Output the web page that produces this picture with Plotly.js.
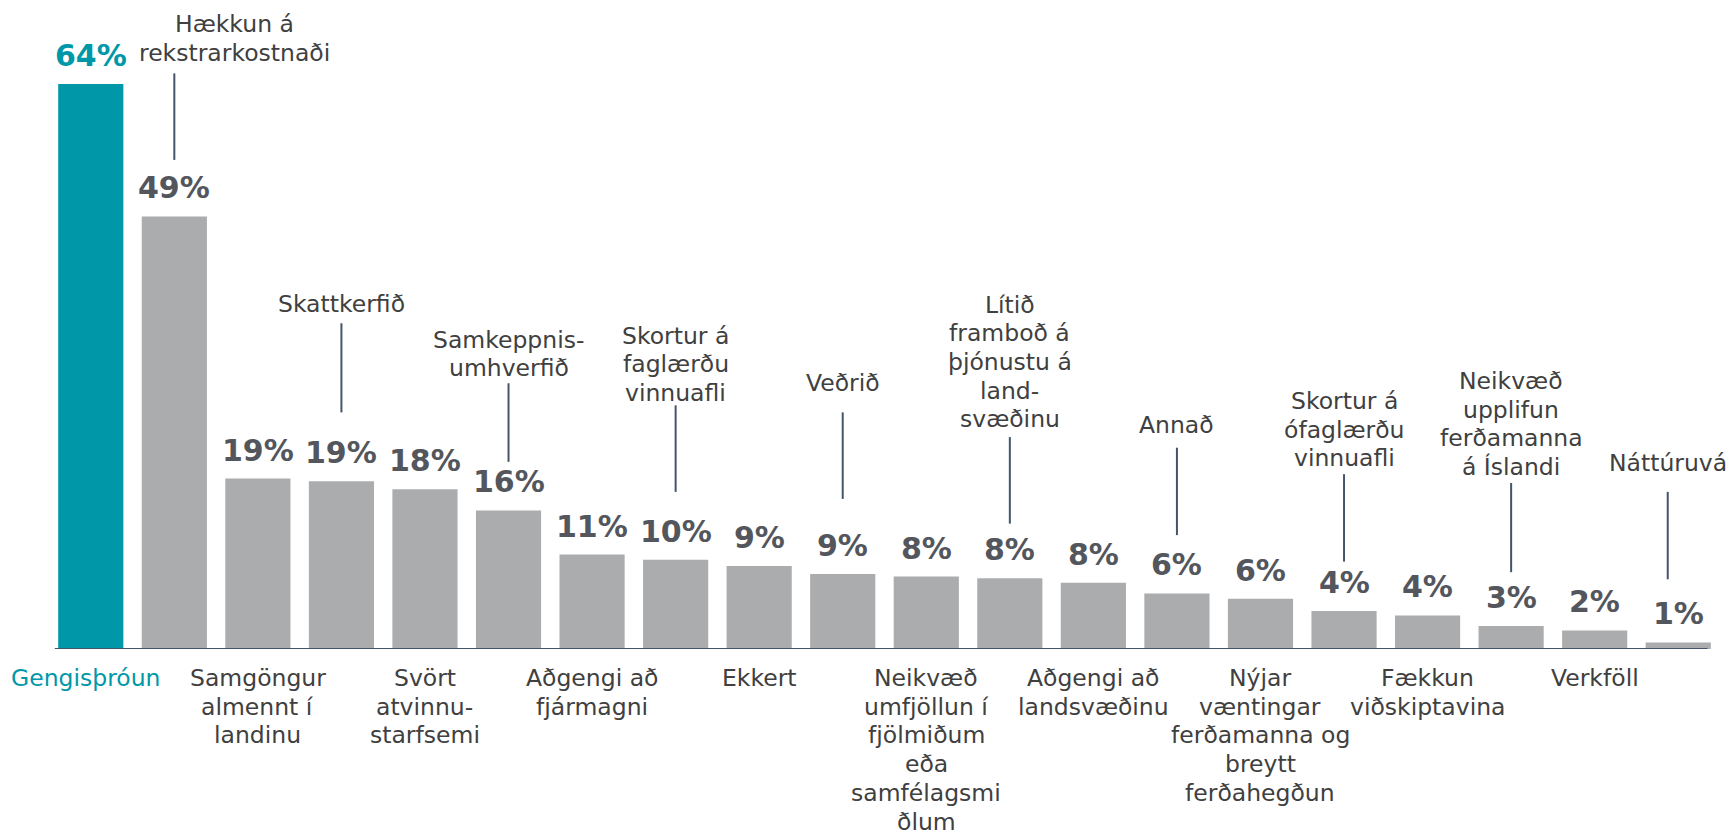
<!DOCTYPE html>
<html>
<head>
<meta charset="utf-8">
<script src="https://cdn.plot.ly/plotly-3.0.1.min.js"></script>
<style>html,body{margin:0;padding:0;background:#fff;}#chart{width:1733px;height:830px;}</style>
</head>
<body>
<div id="chart"></div>
<script>
// ---- data ----
const categories = [
  "Gengisþróun",
  "Hækkun á\nrekstrarkostnaði",
  "Samgöngur\nalmennt í\nlandinu",
  "Skattkerfið",
  "Svört\natvinnu-\nstarfsemi",
  "Samkeppnis-\numhverfið",
  "Aðgengi að\nfjármagni",
  "Skortur á\nfaglærðu\nvinnuafli",
  "Ekkert",
  "Veðrið",
  "Neikvæð\numfjöllun í\nfjölmiðum\neða\nsamfélagsmi\nðlum",
  "Lítið\nframboð á\nþjónustu á\nland-\nsvæðinu",
  "Aðgengi að\nlandsvæðinu",
  "Annað",
  "Nýjar\nvæntingar\nferðamanna og\nbreytt\nferðahegðun",
  "Skortur á\nófaglærðu\nvinnuafli",
  "Fækkun\nviðskiptavina",
  "Neikvæð\nupplifun\nferðamanna\ná Íslandi",
  "Verkföll",
  "Náttúruvá"
];
const values = [64.0, 49.0, 19.3, 19.0, 18.1, 15.7, 10.7, 10.1, 9.4, 8.5, 8.2, 8.0, 7.5, 6.3, 5.7, 4.3, 3.8, 2.6, 2.1, 0.75];

// ---- layout helpers (positions of the callout labels above the bars, axis units) ----
const calloutTextY     = [67.5, 39.1, 31.8, 29.0, 30.1, 26.0, 25.4, 21.6, 20.6, 21.1];
const calloutLineTop   = [65.2, 36.9, 30.1, 27.6, 26.8, 24.0, 22.8, 19.8, 18.8, 17.8];
const calloutLineBottom= [55.4, 26.8, 21.2, 17.8, 17.0, 14.2, 12.9, 9.9, 8.7, 7.9];
const labelShiftPx  = [-5, 60, 0,0,0,0,0,0,0,0,0,0,0,0,0,0,0,0,0,-10.5];
const leaderShiftPx = [0, 0, 0,0,0,0,0,0,0,0,0,0,0,0,0,0,0,0,0,-10.5];

const TEAL = '#0098A8';
const GRAY = '#ABACAE';
const PCT = '#53565C';
const TXT = '#404040';
const LINE = '#44546A';
const FONT = 'DejaVu Sans, Verdana, sans-serif';
const LH = 28.7;
const PITCH = 83.55;

const xIdx = categories.map((c, i) => i);
const colors = values.map((v, i) => i === 0 ? TEAL : GRAY);

const annotations = [];
const shapes = [];

values.forEach((v, i) => {
  annotations.push({
    x: i, y: v, xref: 'x', yref: 'y', showarrow: false,
    text: '<b>' + Math.round(v) + '%</b>',
    yanchor: 'bottom', xanchor: 'center', yshift: 9,
    font: {family: FONT, size: 30, color: i === 0 ? TEAL : PCT}
  });
  const lines = categories[i].split('\n');
  const color = i === 0 ? TEAL : TXT;
  if (i % 2 === 0) {
    lines.forEach((ln, j) => {
      annotations.push({
        x: i, y: 0, xref: 'x', yref: 'y', showarrow: false, text: ln,
        xanchor: 'center', yanchor: 'middle', yshift: -29 - j * LH, xshift: labelShiftPx[i],
        font: {family: FONT, size: 23.5, color: color}
      });
    });
  } else {
    const k = (i - 1) / 2;
    const n = lines.length;
    lines.forEach((ln, j) => {
      annotations.push({
        x: i, y: calloutTextY[k], xref: 'x', yref: 'y', showarrow: false, text: ln,
        xanchor: 'center', yanchor: 'middle', yshift: (n - 1 - j) * LH, xshift: labelShiftPx[i],
        font: {family: FONT, size: 23.5, color: color}
      });
    });
    const lx = i + leaderShiftPx[i] / PITCH;
    shapes.push({type: 'line', xref: 'x', yref: 'y', x0: lx, x1: lx,
      y0: calloutLineBottom[k], y1: calloutLineTop[k], line: {color: LINE, width: 2}});
  }
});

shapes.push({type: 'line', xref: 'x', yref: 'y', x0: -0.431, x1: 19.35, y0: 0, y1: 0,
  line: {color: LINE, width: 2}, layer: 'above'});

const trace = {
  type: 'bar', x: xIdx, y: values,
  marker: {color: colors, line: {width: 0}},
  hoverinfo: 'skip'
};

const layout = {
  width: 1733, height: 830,
  margin: {l: 49, r: 13, t: 31, b: 181},
  paper_bgcolor: '#fff', plot_bgcolor: '#fff',
  bargap: 0.22,
  showlegend: false,
  xaxis: {range: [-0.5, 19.5], showticklabels: false, showgrid: false, zeroline: false, showline: false, ticks: '', fixedrange: true, type: 'linear'},
  yaxis: {range: [0, 70], showticklabels: false, showgrid: false, zeroline: false, showline: false, ticks: '', fixedrange: true},
  annotations: annotations,
  shapes: shapes,
  font: {family: FONT}
};

Plotly.newPlot('chart', [trace], layout, {displayModeBar: false, staticPlot: true});
</script>
</body>
</html>
